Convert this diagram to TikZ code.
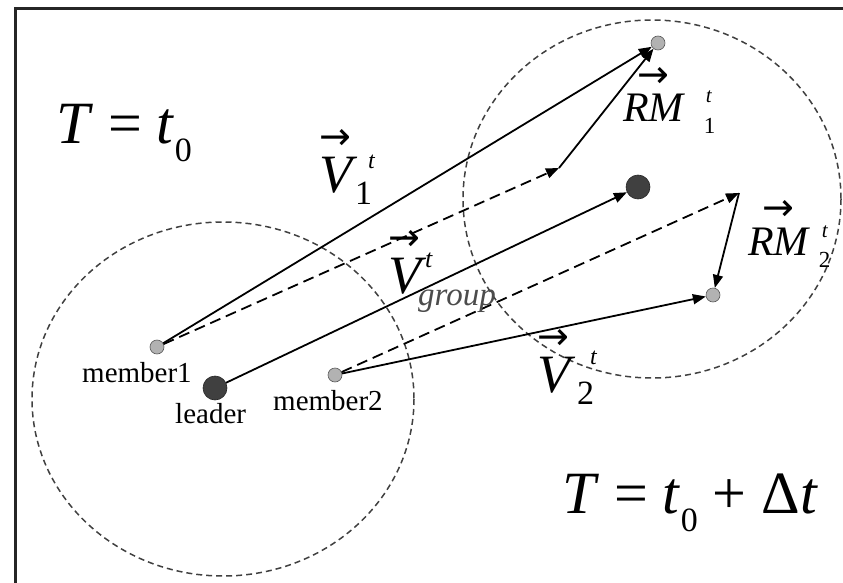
\documentclass[tikz,border=0pt]{standalone}
\usepackage{fontspec}
\setmainfont{Liberation Serif}
\newfontfamily\arrfont{DejaVu Sans}
\usetikzlibrary{arrows.meta}
\newcommand{\fs}[1]{\fontsize{#1}{#1}\selectfont}
% arrow over a letter
\newcommand{\vecl}[1]{\vbox{\offinterlineskip\halign{\hfil##\hfil\cr{\arrfont\upshape\fs{38}→}\cr\noalign{\kern7pt}#1\cr}}}
% sup / sub pair: raise, sup dx, sup, sub dx, sub
\newcommand{\ssc}[5]{{\makebox[0pt][l]{\hspace{#2}\raisebox{#1}{#3}}\hspace{#4}\raisebox{-12pt}{#5}}}

\begin{document}
\begin{tikzpicture}[x=1pt, y=-1pt,
    mb/.style={circle, draw=gray!70!black, fill=gray!60, line width=0.6pt, minimum size=14pt, inner sep=0pt},
    ld/.style={circle, draw=black!85, fill=black!75, line width=0.6pt, minimum size=24pt, inner sep=0pt},
    grp/.style={draw=black!75, line width=1.5pt, dash pattern=on 6pt off 4pt},
    mv/.style={-{Triangle[length=13pt,width=10pt]}, line width=1.8pt},
    dv/.style={mv, dash pattern=on 11pt off 6pt},
    nm/.style={font=\fs{29}, inner sep=0pt, anchor=base west},
    big/.style={font=\fs{60}, inner sep=0pt, anchor=base west},
    vl/.style={font=\fs{54}\itshape, inner sep=0pt, anchor=base west},
    rl/.style={font=\fs{42}\itshape, inner sep=0pt, anchor=base west}
  ]
    \useasboundingbox (0,0) rectangle (843,583);
    % ---- frame ----
    \draw[line width=3pt, black!85] (15,600) -- (15,9) -- (860,9);
    % ---- group areas ----
    \draw[grp] (223,399) ellipse [x radius=191, y radius=177];
    \draw[grp] (652,199) ellipse [x radius=189, y radius=179];
    % ---- nodes at t0 ----
    \node[mb] (m1) at (157,347) {};
    \node[ld] (l) at (215,388) {};
    \node[mb] (m2) at (335,375) {};
    \node[nm] (m1t) at (82,382) {member1};
    \node[nm] (lt) at (175,423) {leader};
    \node[nm] (m2t) at (273,410) {member2};
    % ---- nodes at t0 + dt ----
    \node[mb] (M1) at (658,43) {};
    \node[ld] (L) at (638,187) {};
    \node[mb] (M2) at (713,295) {};
    \coordinate (p1) at (559,168);
    \coordinate (p2) at (739,193);
    % ---- moves ----
    \draw[dv] (m1) -- (p1);
    \draw[mv] (p1) -- (M1);
    \draw[mv] (m1) -- (M1);
    \draw[mv] (l) -- (L);
    \draw[dv] (m2) -- (p2);
    \draw[mv] (p2) -- (M2);
    \draw[mv] (m2) -- (M2);
    % ---- labels ----
    \node[big] (T0) at (56,143) {\textit{T} = \textit{t}\raisebox{-18pt}{\fs{34}0}};
    \node[big] (T1) at (562,513) {\textit{T} = \textit{t}\raisebox{-18pt}{\fs{34}0} + Δ\textit{t}};
    \node[vl] (v1) at (319,192) {\vecl{V}\ssc{24pt}{16pt}{\fs{24}t}{3pt}{\fs{34}\upshape 1}};
    \node[vl] (vg) at (388,293) {\vecl{V}\ssc{26pt}{4pt}{\fs{26}t}{-3pt}{\fs{33}\color{black!70}group}};
    \node[vl] (v2) at (537,392) {\vecl{V}\ssc{28pt}{20pt}{\fs{24}t}{7pt}{\fs{34}\upshape 2}};
    \node[rl] (rm1) at (623,122) {\vecl{RM}\ssc{20pt}{22pt}{\fs{21}t}{20pt}{\fs{23}\upshape 1}};
    \node[rl] (rm2) at (748,255) {\vecl{RM}\ssc{18pt}{13pt}{\fs{21}t}{10pt}{\fs{23}\upshape 2}};
\end{tikzpicture}
\end{document}
